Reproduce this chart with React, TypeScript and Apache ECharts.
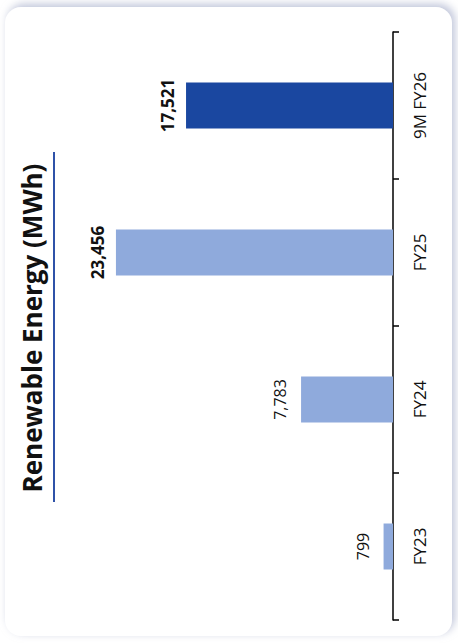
import React, { useEffect, useRef } from "react";
import * as echarts from "echarts";

const categories = ["FY23", "FY24", "FY25", "9M FY26"];
const values = [799, 7783, 23456, 17521];
const barColors = ["#8FAADC", "#8FAADC", "#8FAADC", "#1A47A0"];
const boldLabels = [false, false, true, true];
const titleText = "Renewable Energy (MWh)";

const FONT = "'Open Sans', 'Noto Sans', 'Liberation Sans', sans-serif";

export default function App() {
  const ref = useRef<HTMLDivElement>(null);
  useEffect(() => {
    if (!ref.current) return;
    const chart = echarts.init(ref.current, undefined, { renderer: "svg" });
    chart.setOption({
      animation: false,
      backgroundColor: "#ffffff",
      graphic: [
        {
          type: "rect",
          z: -10,
          silent: true,
          shape: { x: 5, y: 7, width: 447, height: 629, r: 16 },
          style: {
            fill: "#ffffff",
            shadowBlur: 8,
            shadowColor: "rgba(170,178,205,0.75)",
            shadowOffsetX: 3,
            shadowOffsetY: -3,
          },
        },
        {
          type: "text",
          x: 32,
          y: 328,
          rotation: Math.PI / 2,
          style: {
            text: titleText,
            font: `bold 26px ${FONT}`,
            fill: "#111111",
            align: "center",
            verticalAlign: "middle",
          },
        },
        {
          type: "line",
          shape: { x1: 54, y1: 152, x2: 54, y2: 502 },
          style: { stroke: "#2F52A8", lineWidth: 2 },
        },
      ],
      grid: { left: 97.7, right: 65, top: 32, bottom: 24, containLabel: false },
      xAxis: {
        type: "value",
        inverse: true,
        min: 0,
        max: 25000,
        show: false,
        splitLine: { show: false },
      },
      yAxis: {
        type: "category",
        position: "right",
        data: categories,
        axisLine: { show: true, lineStyle: { color: "#000000", width: 1.5 } },
        axisTick: { show: true, length: 6, lineStyle: { color: "#000000", width: 1.5 } },
        axisLabel: {
          rotate: 90,
          margin: 18,
          align: "center",
          verticalAlign: "top",
          color: "#111111",
          fontSize: 17,
          fontFamily: FONT,
        },
      },
      series: [
        {
          type: "bar",
          barWidth: 46,
          data: values.map((v, i) => ({
            value: v,
            itemStyle: { color: barColors[i] },
            label: {
              fontWeight: boldLabels[i] ? "bold" : "normal",
              fontSize: boldLabels[i] ? 17 : 16,
              distance: boldLabels[i] ? 10 : 13,
            },
          })),
          label: {
            show: true,
            position: "left",
            distance: 10,
            rotate: 90,
            align: "center",
            verticalAlign: "bottom",
            color: "#111111",
            fontSize: 16,
            fontFamily: FONT,
            formatter: (p: any) => Number(p.value).toLocaleString("en-US"),
          },
        },
      ],
    });
    return () => chart.dispose();
  }, []);
  return (
    <div
      ref={ref}
      style={{ position: "fixed", left: 0, top: 0, width: 458, height: 644 }}
    />
  );
}
